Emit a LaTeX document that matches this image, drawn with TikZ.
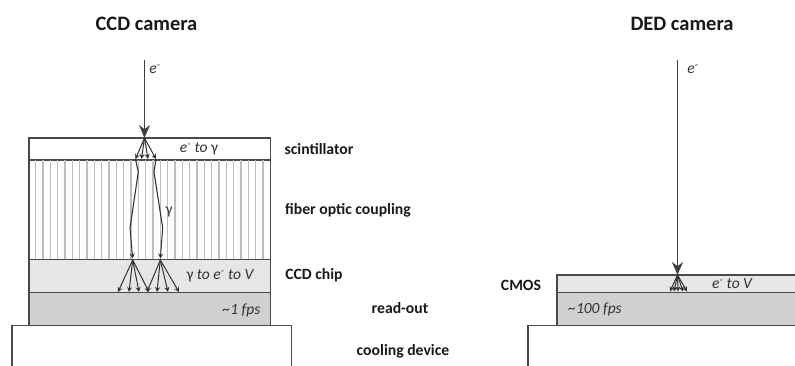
\documentclass[tikz,border=0pt]{standalone}
\usepackage{fontspec}
\setmainfont{Carlito}
\usetikzlibrary{arrows.meta}
\definecolor{edgeg}{HTML}{4A4A4A}
\definecolor{fibreg}{HTML}{BEBEBE}
\definecolor{chipg}{HTML}{E6E6E6}
\definecolor{readg}{HTML}{D0D0D0}
\tikzset{
  x=1pt,y=-1pt,
  layer/.style={draw=edgeg,line width=1.3pt},
  heading/.style={font=\bfseries\fontsize{20.5}{24}\selectfont,text=black!90,inner sep=0,anchor=center},
  tag/.style={font=\bfseries\fontsize{15.7}{19}\selectfont,text=black!90,inner sep=0,anchor=center},
  note/.style={font=\itshape\fontsize{15.5}{18}\selectfont,text=black!80,inner sep=0,anchor=center},
  beam/.style={draw=black!75,line width=1.7pt,-{Stealth[length=13pt,width=11pt]}},
  ray/.style={draw=black!80,line width=1pt,-{Stealth[length=5pt,width=5pt]}},
  path/.style={draw=black!80,line width=1.1pt},
  fibre/.style={draw=fibreg,line width=1.3pt}
}
\begin{document}
\begin{tikzpicture}
\useasboundingbox (0,0) rectangle (795,365);
% left stack
\path[layer,fill=white] (29,138) rectangle (270.5,160);
\foreach \i in {0,...,31}{\draw[fibre] ({35.7+7.33*\i},160) -- ({35.7+7.33*\i},259.5);}
\path[layer,fill=chipg] (29,259.5) rectangle (270.5,292.5);
\path[layer,fill=readg] (29,292.5) rectangle (270.5,325.5);
\draw[layer] (29,160) -- (29,259.5) (270.5,160) -- (270.5,259.5);
\draw[layer] (12,366) -- (12,325.5) -- (291.5,325.5) -- (291.5,366);
% right stack
\path[layer,fill=chipg] (557,275) rectangle (800,292.5);
\path[layer,fill=readg] (557,292.5) rectangle (800,325.5);
\draw[layer] (528,366) -- (528,325.5) -- (800,325.5);
% headings and labels
\node[heading] (h1) at (146.5,24) {CCD camera};
\node[heading] (h2) at (682,24) {DED camera};
\node[tag] (t1) at (319,149) {scintillator};
\node[tag] (t2) at (348,210.5) {fiber optic coupling};
\node[tag] (t3) at (314,275.5) {CCD chip};
\node[tag] (t4) at (400,308.5) {read-out};
\node[tag] (t5) at (403,351) {cooling device};
\node[tag] (t6) at (521,285) {CMOS};
\node[note] (n1) at (199,149) {e\textsuperscript{-} to \textup{γ}};
\node[note] (n2) at (220,276) {\textup{γ} to e\textsuperscript{-} to V};
\node[note] (n3) at (241.5,310) {\textasciitilde1 fps};
\node[note] (n4) at (732,284) {e\textsuperscript{-} to V};
\node[note] (n5) at (595,309) {\textasciitilde100 fps};
\node[note] (g) at (169,212) {\textup{γ}};
\node[note] (e1) at (155,69) {e\textsuperscript{-}};
\node[note] (e2) at (693,69) {e\textsuperscript{-}};
% left beam
\coordinate (a0) at (144.5,60);
\coordinate (a1) at (144.5,138);
\draw[beam] (a0) -- (a1);
\foreach \n/\x in {s1/135.5,s2/141.5,s3/148,s4/156}{
  \coordinate (\n) at (\x,159);
  \draw[ray] (a1) -- (\n);
}
\coordinate (c1) at (132.7,258.5);
\coordinate (c2) at (160.3,258.5);
\draw[path] (s1) -- (138.3,172) -- (130,228);
\draw[ray] (130,228) -- (c1);
\draw[path] (s4) -- (154,172) -- (162.7,228);
\draw[ray] (162.7,228) -- (c2);
\foreach \x in {118,129,139,149}{\coordinate (p) at (\x,292); \draw[ray] (132.7,260) -- (p);}
\foreach \x in {147,157,168,179}{\coordinate (p) at (\x,292); \draw[ray] (160.3,260) -- (p);}
% right beam
\coordinate (b0) at (677.5,60);
\coordinate (b1) at (677.5,275);
\draw[beam] (b0) -- (b1);
\foreach \x in {670,674,678,683,687}{\coordinate (q) at (\x,291.5); \draw[ray] (b1) -- (q);}
\end{tikzpicture}
\end{document}
